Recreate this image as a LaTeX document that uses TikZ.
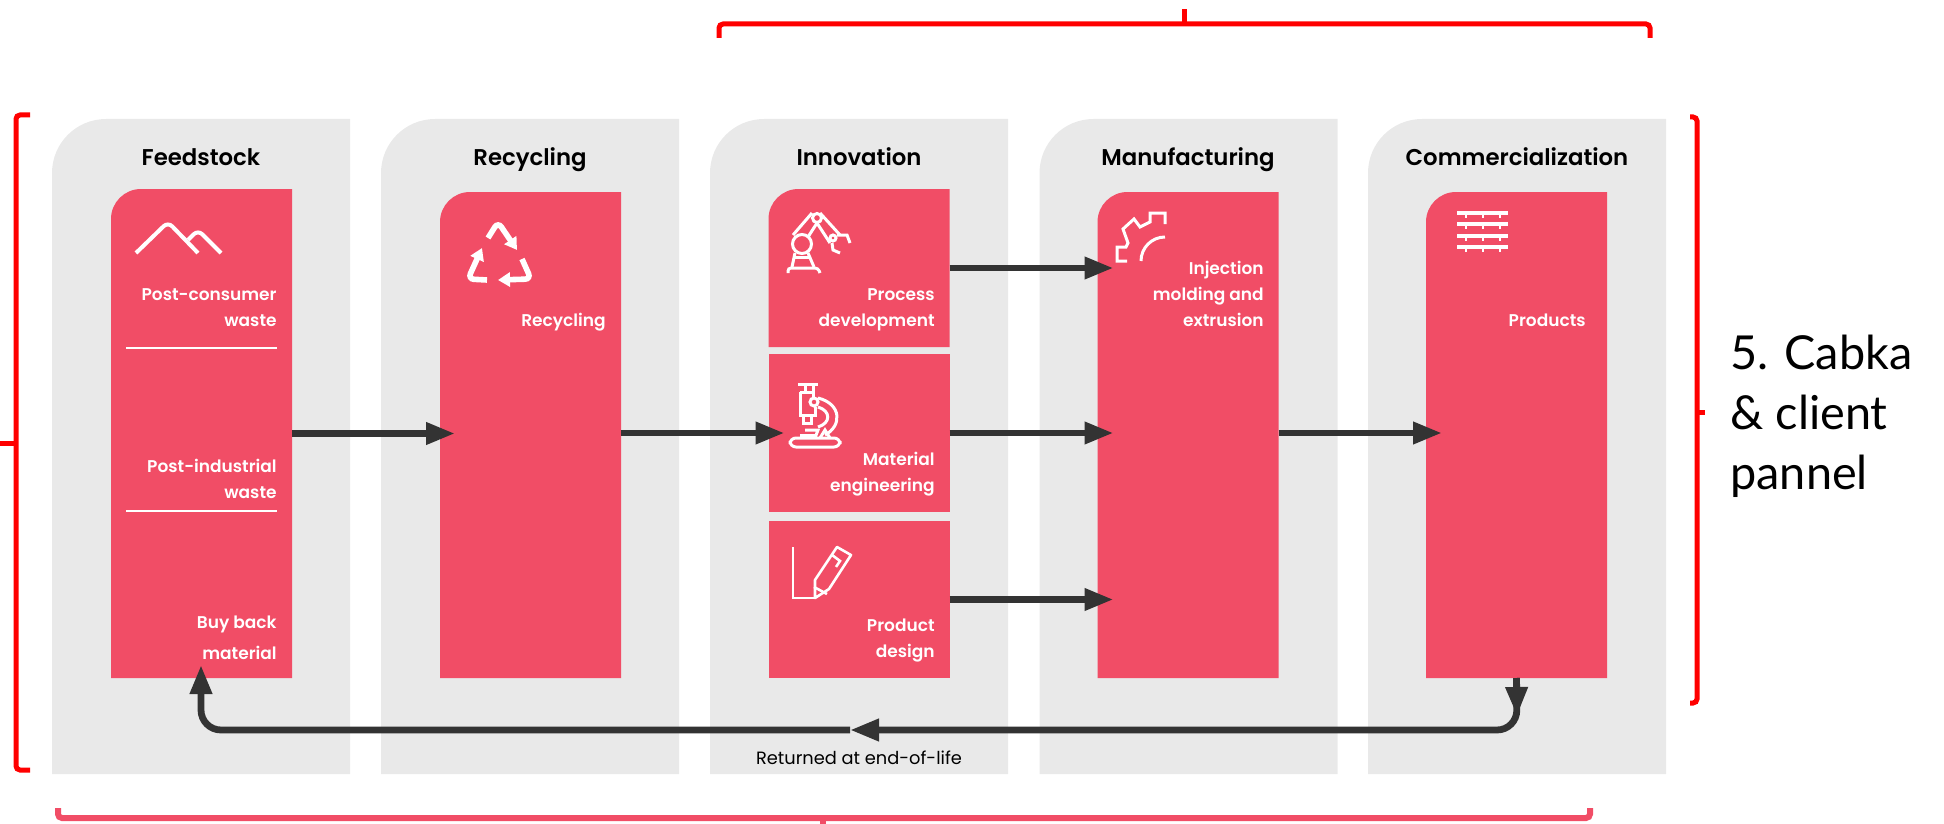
\documentclass[tikz,border=0pt]{standalone}
\usepackage{fontspec}
\usetikzlibrary{arrows.meta}
\setmainfont{Poppins}[BoldFont = {Poppins SemiBold}]
\newfontfamily\labelfont{Lato}
\definecolor{panelgray}{HTML}{E9E9E9}
\definecolor{cardred}{HTML}{F14D66}
\definecolor{flowgray}{HTML}{333333}
\definecolor{bracered}{HTML}{FF0000}
\def\px{.5pt}
\tikzset{
    cutfill/.style 2 args = {inner sep = 0pt, outer sep = 0pt, append after command = {\pgfextra{\begin{pgfinterruptpath}
        \fill[#1, rounded corners = #2] (\tikzlastnode.south west) -- (\tikzlastnode.north west) [sharp corners] -- (\tikzlastnode.north east) -- (\tikzlastnode.south east) -- cycle;
        \end{pgfinterruptpath}}}},
    panelbox/.style = {cutfill = {panelgray}{27pt}, minimum width = 298*\px, minimum height = 655*\px},
    cardbox/.style = {cutfill = {cardred}{15pt}, minimum width = 181*\px},
    plaincard/.style = {fill = cardred, inner sep = 0pt, outer sep = 0pt, minimum width = 181*\px},
    headtext/.style = {font = \bfseries\fontsize{11.4}{14}\selectfont, text = black, anchor = base, inner sep = 0pt},
    cardtext/.style = {font = \bfseries\fontsize{8.5}{13}\selectfont, text = white, align = right, anchor = base east, inner sep = 0pt},
    flow/.style = {draw = flowgray, line width = 3.4pt, -{Triangle[length = 14.5pt, width = 10.5pt]}},
    icon/.style = {draw = white, line width = 1.5pt},
    brace/.style = {draw = bracered, line width = 2.5pt, rounded corners = 2pt}
}
\begin{document}
\begin{tikzpicture}[x = .5pt, y = -.5pt]
                \useasboundingbox (0,0) rectangle (1944,824);
                \node[panelbox] (feedstockpanel) at (201,446.5) {};
                \node[panelbox] (recyclingpanel) at (530,446.5) {};
                \node[panelbox] (innovationpanel) at (859,446.5) {};
                \node[panelbox] (manufacturingpanel) at (1188.5,446.5) {};
                \node[panelbox] (commercialpanel) at (1517,446.5) {};
                \node[headtext] (feedstockhead) at (201,165) {Feedstock};
                \node[headtext] (recyclinghead) at (530,165) {Recycling};
                \node[headtext] (innovationhead) at (859,165) {Innovation};
                \node[headtext] (manufacturinghead) at (1188,165) {Manufacturing};
                \node[headtext] (commercialhead) at (1517,165) {Commercialization};
                \node[cardbox, minimum height = 489*\px] (feedstock) at (201.5,433.5) {};
                \node[cardbox, minimum height = 486*\px] (recycling) at (530.5,435) {};
                \node[cardbox, minimum height = 158*\px] (process) at (859,268) {};
                \node[plaincard, minimum height = 158*\px] (material) at (859,433) {};
                \node[plaincard, minimum height = 157*\px] (design) at (859,599.5) {};
                \node[cardbox, minimum height = 486*\px] (manufacturing) at (1188,435) {};
                \node[cardbox, minimum height = 486*\px] (commercial) at (1516.5,435) {};
                \node[cardtext] (postconsumer) at (277,326) {Post-consumer\\waste};
                \node[cardtext] (postindustrial) at (277,498) {Post-industrial\\waste};
                \node[cardtext] (buyback) at (277,659) {Buy back\\[2.5pt]material};
                \node[cardtext] (recyclingtext) at (606,326) {Recycling};
                \node[cardtext] (processtext) at (935,326) {Process\\development};
                \node[cardtext] (materialtext) at (935,491) {Material\\engineering};
                \node[cardtext] (designtext) at (935,657) {Product\\design};
                \node[cardtext] (injection) at (1264,326) {Injection\\molding and\\extrusion};
                \node[cardtext] (productstext) at (1586,326) {Products};
                \node[font = \fontsize{8.9}{12}\selectfont, text = black] (returned) at (859,758) {Returned at end-of-life};
                \node[font = \labelfont\fontsize{23.4}{29.8}\selectfont, align = left, anchor = north west, inner sep = 0pt] (cabka) at (1730,335) {5. Cabka\\\& client\\pannel};
                \coordinate (buyin) at (201,665);
                \coordinate (leftturn) at (201,730);
                \coordinate (returntip) at (850,730);
                \coordinate (rightturn) at (1517,730);
                \coordinate (downtip) at (1517,716);
                \draw[flow, shorten > = -7.5pt] (feedstock.east) -- (recycling.west |- feedstock.east);
                \draw[flow, shorten > = -8pt] (recycling.east |- material.east) -- (material.west);
                \draw[flow, shorten > = -8pt] (process.east) -- (process.east -| manufacturing.west);
                \draw[flow, shorten > = -8pt] (material.east) -- (material.east -| manufacturing.west);
                \draw[flow, shorten > = -8pt] (design.east) -- (design.east -| manufacturing.west);
                \draw[flow, shorten > = -8pt] (material.east -| manufacturing.east) -- (material.east -| commercial.west);
                \draw[flow] (commercial.south) -- (downtip);
                \draw[flow, rounded corners = 10pt] (commercial.south) -- (rightturn) -- (returntip);
                \draw[flow, rounded corners = 10pt] (returntip) -- (leftturn) -- (buyin);
                \draw[white, line width = 1pt] (126,348) -- (277,348);
                \draw[white, line width = 1pt] (126,511) -- (277,511);
                \draw[icon, line width = 2pt, rounded corners = 3pt] (136,253) -- (168,222) -- (198,253);
                \draw[icon, line width = 2pt, rounded corners = 3pt] (188,240) -- (198,230) -- (221,253);
                \draw[icon, line width = 2.8pt, rounded corners = 3pt, -{Triangle[length = 6pt, width = 7pt]}] (488,238) -- (498,222) -- (517,250);
                \draw[icon, line width = 2.8pt, rounded corners = 3pt, -{Triangle[length = 6pt, width = 7pt]}] (487,280) -- (468,279) -- (482,248);
                \draw[icon, line width = 2.8pt, rounded corners = 3pt, -{Triangle[length = 6pt, width = 7pt]}] (522,259) -- (531,279) -- (498,280);
                \draw[icon] (802,244) circle (9.5);
                \draw[icon] (817,218) circle (4.5);
                \draw[icon] (833,238) circle (3);
                \draw[icon] (793,235) -- (812,213);
                \draw[icon] (808,237) -- (817,223);
                \draw[icon] (820,213) -- (840,235);
                \draw[icon] (817,223) -- (830,243);
                \draw[icon] (837,235) -- (847,235) -- (850,243);
                \draw[icon] (832,243) -- (833,250) -- (840,253);
                \draw[icon] (795,253) -- (792,267);
                \draw[icon] (808,253) -- (814,267);
                \draw[icon] (795,257) -- (809,257);
                \draw[icon, rounded corners = 1.5pt] (788,273) -- (788,268) -- (818,268) -- (820,273);
                \draw[icon] (798,384) -- (818,384);
                \draw[icon] (805,385) -- (805,392);
                \draw[icon] (813,385) -- (813,398);
                \draw[icon] (800,392) -- (813,392);
                \draw[icon] (800,392) -- (800,415) -- (815,415) -- (815,407);
                \draw[icon] (803,415) -- (803,423) -- (811,423) -- (811,415);
                \draw[icon] (814,402) circle (4);
                \draw[icon] (818,398) .. controls (842,404) and (842,426) .. (825,435);
                \draw[icon] (818,407) .. controls (831,411) and (831,423) .. (818,427);
                \draw[icon] (805,430) -- (818,430) -- (815,438);
                \draw[icon] (800,435) -- (815,435);
                \draw[icon] (820,438) -- (825,430) -- (830,438);
                \draw[icon, rounded corners = 3pt] (790,438) rectangle (840,447);
                \draw[icon, line width = 1.3pt] (793,547) -- (793,598) -- (815,598);
                \draw[icon, line width = 1.3pt, line join = round] (815,598) -- (815,580) -- (837,547) -- (851,555) -- (829,589) -- cycle;
                \draw[icon, line width = 1.3pt] (814,587) -- (827,594);
                \draw[icon, line width = 1.3pt] (832,555) -- (840,561) -- (836,567);
                \draw[icon] (1127,261) -- (1117,261) -- (1117,247) -- (1126,247) -- (1128,243) -- (1123,229) -- (1134,219) -- (1140,227) -- (1150,222) -- (1150,213) -- (1165,213) -- (1165,224);
                \draw[icon] (1141,261) arc[start angle = 180, end angle = 270, radius = 24];
                \draw[icon, line width = 1.6pt] (1457,213) -- (1508,213);
                \draw[icon, line width = 1.6pt] (1457,224) -- (1508,224);
                \draw[icon, line width = 1.6pt] (1457,236) -- (1508,236);
                \draw[icon, line width = 1.6pt] (1457,247) -- (1508,247);
                \foreach \rowy in {213,224,236,247}
                    \foreach \colx in {1466,1483,1500}
                        \draw[icon, line width = 1.2pt] (\colx,\rowy) -- (\colx,\rowy+5);
                \draw[brace] (719,38) -- (719,24) -- (1650,24) -- (1650,38);
                \draw[brace, rounded corners = 0pt] (1184,24) -- (1184,9);
                \draw[brace] (30,115) -- (16,115) -- (16,770) -- (30,770);
                \draw[brace, rounded corners = 0pt] (16,443) -- (0,443);
                \draw[brace] (1690,117) -- (1697,117) -- (1697,703) -- (1690,703);
                \draw[brace, rounded corners = 0pt] (1697,412) -- (1705,412);
                \draw[brace, draw = cardred, line width = 3pt] (58,808) -- (58,818) -- (1590,818) -- (1590,808);
                \draw[brace, draw = cardred, line width = 3pt, rounded corners = 0pt] (823,818) -- (823,824);
                \end{tikzpicture}
\end{document}
